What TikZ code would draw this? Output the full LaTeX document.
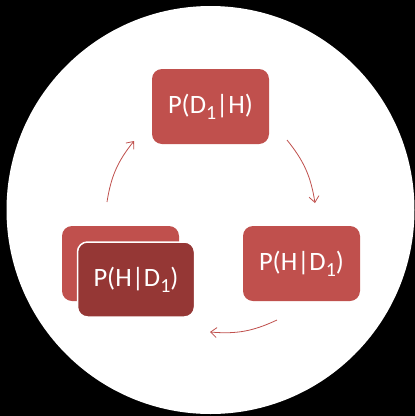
\documentclass[tikz,border=0pt]{standalone}
\usepackage{fontspec}
\setmainfont{Carlito}
\usetikzlibrary{arrows.meta}
\definecolor{boxred}{HTML}{C0504D}
\definecolor{boxdark}{HTML}{953735}
\tikzset{
  box/.style={fill=boxred, rounded corners=10pt, minimum width=117pt, minimum height=75pt, inner sep=0pt, text=white, font=\fontsize{26.5}{30}\selectfont},
  frontbox/.style={box, fill=boxdark, draw=white, line width=1.5pt},
  cyc/.style={draw=boxred, line width=0.8pt, -{Straight Barb[length=6pt,width=10pt]}}
}
\newcommand{\sbone}{\raisebox{-6pt}{\fontsize{20}{20}\selectfont 1}}
\begin{document}
\begin{tikzpicture}[x=1pt,y=-1pt]
\fill[black] (0,0) rectangle (415,416);
\useasboundingbox (0,0) rectangle (415,416);
\fill[white] (210.5,210) circle (204);
\node[box] (top) at (210.5,106.5) {P(D\sbone|H)};
\node[box] (right) at (301.5,263.5) {P(H|D\sbone)};
\node[box] (back) at (120.5,263.5) {};
\node[frontbox] (front) at (136,279.5) {P(H|D\sbone)};
\coordinate (a1s) at (287,140);
\coordinate (a1e) at (315,203);
\coordinate (a2s) at (277,320);
\coordinate (a2e) at (210,332);
\coordinate (a3s) at (107,202);
\coordinate (a3e) at (134,141);
\draw[cyc] (a1s) to[bend left=15] (a1e);
\draw[cyc] (a2s) to[bend left=15] (a2e);
\draw[cyc] (a3s) to[bend left=15] (a3e);
\end{tikzpicture}
\end{document}
